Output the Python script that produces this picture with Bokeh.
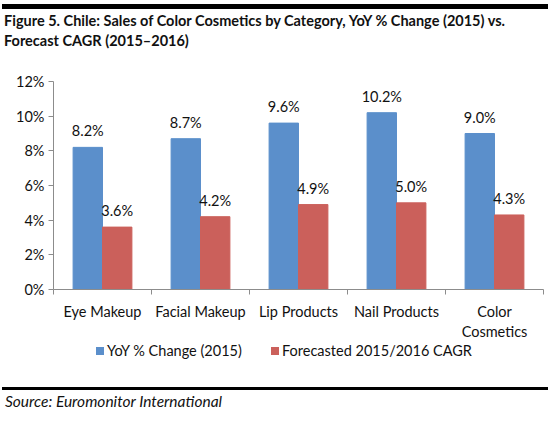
from bokeh.plotting import figure
from bokeh.layouts import column
from bokeh.models import (Range1d, LinearAxis, FixedTicker, ColumnDataSource, LabelSet, Div)
from bokeh.core.properties import value
from bokeh.transform import dodge
from bokeh.embed import file_html
from bokeh.resources import INLINE

# ---- data ----
categories = ["Eye Makeup", "Facial Makeup", "Lip Products", "Nail Products", "Color\nCosmetics"]
yoy_2015 = [8.2, 8.7, 9.6, 10.2, 9.0]
cagr_2015_2016 = [3.6, 4.2, 4.9, 5.0, 4.3]
y_ticks = [0, 2, 4, 6, 8, 10, 12]
series_names = ["YoY % Change (2015)", "Forecasted 2015/2016 CAGR"]
title_lines = ["Figure 5. Chile: Sales of Color Cosmetics by Category, YoY % Change (2015) vs.",
               "Forecast CAGR (2015\u20132016)"]
source_note = "Source: Euromonitor International"

BLUE = "#5B8FCB"
RED = "#CB605B"
AXIS = "#8C8C8C"
TXT = "#111111"
FONT = "Lato"
W = 550
TOP_H, FIG_H, BOT_H = 68, 274, 81

pos = [i + 0.5 for i in range(len(categories))]
src = ColumnDataSource(dict(
    pos=pos, yoy=yoy_2015, cagr=cagr_2015_2016,
    yoy_lbl=[f"{v:.1f}%" for v in yoy_2015],
    cagr_lbl=[f"{v:.1f}%" for v in cagr_2015_2016],
))

p = figure(width=W, height=FIG_H, x_range=Range1d(0, len(categories)), y_range=Range1d(0, y_ticks[-1]),
           output_backend="svg", toolbar_location=None, x_axis_type=None, y_axis_type=None,
           min_border_left=53, min_border_right=7, min_border_top=13, min_border_bottom=50)
p.outline_line_color = None

bw = 0.3
r1 = p.vbar(x=dodge("pos", -bw / 2, range=p.x_range), top="yoy", width=bw, source=src,
            fill_color=BLUE, line_color=BLUE)
r2 = p.vbar(x=dodge("pos", bw / 2, range=p.x_range), top="cagr", width=bw, source=src,
            fill_color=RED, line_color=RED)

for col, lbl, off in [("yoy", "yoy_lbl", -bw / 2), ("cagr", "cagr_lbl", bw / 2)]:
    p.add_layout(LabelSet(x=dodge("pos", off, range=p.x_range), y=col, text=lbl, source=src,
                          y_offset=8, text_align="center", text_baseline="bottom",
                          text_font=value(FONT), text_font_size="14.5px", text_color=TXT))

yaxis = LinearAxis(ticker=FixedTicker(ticks=y_ticks),
                   major_label_overrides={t: f"{t}%" for t in y_ticks},
                   axis_line_color=AXIS, major_tick_line_color=AXIS,
                   major_tick_in=0, major_tick_out=5, minor_tick_line_color=None,
                   major_label_standoff=4, major_label_text_font=FONT,
                   major_label_text_font_size="14.5px", major_label_text_color=TXT)
p.add_layout(yaxis, "left")

xaxis = LinearAxis(ticker=FixedTicker(ticks=pos, minor_ticks=list(range(len(categories) + 1))),
                   major_label_overrides={pv: c for pv, c in zip(pos, categories)},
                   axis_line_color=AXIS, major_tick_line_color=None, major_tick_in=0, major_tick_out=0,
                   minor_tick_line_color=AXIS, minor_tick_in=0, minor_tick_out=5,
                   major_label_standoff=8, major_label_text_font=FONT,
                   major_label_text_font_size="14.5px", major_label_text_color=TXT)
p.add_layout(xaxis, "below")

title_html = (
    f'<div style="position:relative;width:{W}px;height:{TOP_H}px;font-family:{FONT};color:{TXT};">'
    f'<div style="position:absolute;left:2px;top:4px;width:546px;height:5px;background:#000;"></div>'
    f'<div style="position:absolute;left:4px;top:11px;font-size:14.5px;font-weight:bold;'
    f'line-height:20px;white-space:nowrap;">{title_lines[0]}<br>{title_lines[1]}</div></div>'
)

def legend_item(color, label, x):
    return (f'<div style="position:absolute;left:{x}px;top:5px;width:8px;height:8px;background:{color};"></div>'
            f'<div style="position:absolute;left:{x + 11}px;top:0px;font-size:14.5px;line-height:18px;'
            f'white-space:nowrap;">{label}</div>')

bottom_html = (
    f'<div style="position:relative;width:{W}px;height:{BOT_H}px;font-family:{FONT};color:{TXT};">'
    + legend_item(BLUE, series_names[0], 96) + legend_item(RED, series_names[1], 271)
    + f'<div style="position:absolute;left:2px;top:45px;width:546px;height:3px;background:#000;"></div>'
    f'<div style="position:absolute;left:5px;top:50px;font-size:15.5px;font-style:italic;'
    f'line-height:19px;white-space:nowrap;">{source_note}</div></div>'
)
top = Div(text=title_html, width=W, height=TOP_H, margin=0)
bottom = Div(text=bottom_html, width=W, height=BOT_H, margin=0)

layout = column(top, p, bottom, spacing=0)
open("out.html", "w").write(file_html(layout, INLINE))
